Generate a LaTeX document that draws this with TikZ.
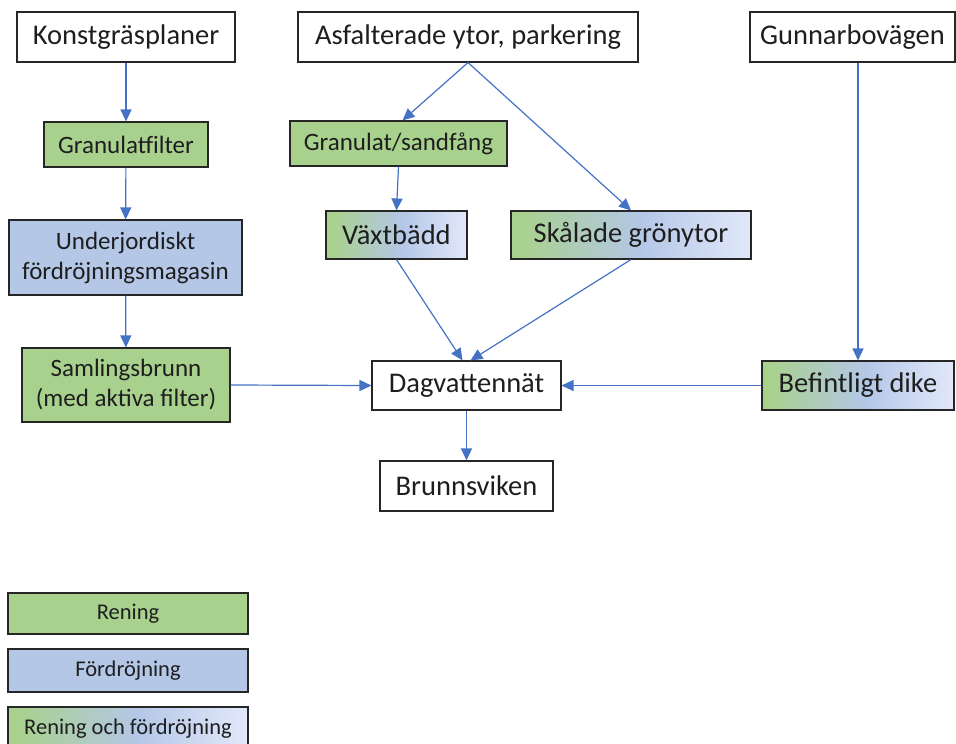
\documentclass[tikz,border=0pt]{standalone}
\usepackage{fontspec}
\setmainfont{Carlito}
\usetikzlibrary{arrows.meta,calc}
\definecolor{grn}{HTML}{A9D18E}
\definecolor{blu}{HTML}{B4C7E7}
\definecolor{lblu}{HTML}{E2E8FA}
\definecolor{arr}{HTML}{4472C4}
\definecolor{txt}{HTML}{1E1E1E}
\pgfdeclarehorizontalshading{gb}{100bp}{color(0bp)=(grn); color(27bp)=(grn); color(52bp)=(blu); color(75bp)=(lblu); color(100bp)=(lblu)}
\tikzset{
  box/.style={draw=black!85, line width=1.1pt, rectangle, inner sep=0pt, align=center, text=txt},
  whitebox/.style={box, fill=white, font=\fontsize{28.5}{33}\selectfont},
  greenbox/.style={box, fill=grn},
  bluebox/.style={box, fill=blu},
  mixbox/.style={box, shading=gb},
  flow/.style={draw=arr, line width=1.2pt, -{Triangle[length=12pt,width=11pt]}},
}
\begin{document}
\begin{tikzpicture}[x=1pt,y=-1pt]
\useasboundingbox (0,0) rectangle (956,744);
\clip (0,0) rectangle (956,744);
% top row
\node[whitebox, minimum width=218, minimum height=50] (konst) at (126,37) {Konstgräsplaner};
\node[whitebox, minimum width=340, minimum height=50] (asf) at (468,37) {Asfalterade ytor, parkering};
\node[whitebox, minimum width=205, minimum height=50] (gunn) at (852.5,37) {Gunnarbovägen};
% left column
\node[greenbox, minimum width=164, minimum height=45, font=\fontsize{25}{30}\selectfont] (granf) at (126,144.5) {Granulatfilter};
\node[bluebox, minimum width=233, minimum height=75, font=\fontsize{25}{30}\selectfont] (under) at (125.5,257.5) {Underjordiskt\\fördröjningsmagasin};
\node[greenbox, minimum width=208, minimum height=74, font=\fontsize{25}{30}\selectfont] (saml) at (126,385) {Samlingsbrunn\\(med aktiva filter)};
% middle
\node[greenbox, minimum width=217, minimum height=45, font=\fontsize{25}{30}\selectfont] (gsand) at (398.5,143.5) {Granulat/sandfång};
\node[mixbox, minimum width=141, minimum height=48, font=\fontsize{28.5}{33}\selectfont] (vaxt) at (396.5,235) {Växtbädd};
\node[mixbox, minimum width=240, minimum height=48, font=\fontsize{28.5}{33}\selectfont] (skal) at (631,235) {Skålade grönytor};
\node[whitebox, minimum width=189, minimum height=49] (dag) at (466.5,385.5) {Dagvattennät};
\node[whitebox, minimum width=173, minimum height=50] (brunn) at (466.5,486) {Brunnsviken};
\node[mixbox, minimum width=192, minimum height=49, font=\fontsize{28.5}{33}\selectfont] (dike) at (858,385.5) {Befintligt dike};
% legend
\node[greenbox, minimum width=240, minimum height=41, font=\fontsize{22.5}{27}\selectfont] (leg1) at (128,613.5) {Rening};
\node[bluebox, minimum width=240, minimum height=43, font=\fontsize{22.5}{27}\selectfont] (leg2) at (128,670.5) {Fördröjning};
\node[mixbox, minimum width=240, minimum height=44, font=\fontsize{22.5}{27}\selectfont] (leg3) at (128,729) {Rening och fördröjning};
% connectors
\draw[flow] (konst) -- (granf);
\draw[flow] (granf) -- (under);
\draw[flow] (under) -- (saml);
\draw[flow] (saml.east) -- (dag.west);
\draw[flow] (asf.south) -- ([xshift=4pt]gsand.north);
\draw[flow] (asf.south) -- (skal.north);
\draw[flow] (gsand.south) -- (vaxt.north);
\draw[flow] (vaxt.south) -- ([xshift=-4pt]dag.north);
\draw[flow] (skal.south) -- ([xshift=4pt]dag.north);
\draw[flow] (dike.north |- gunn.south) -- (dike.north);
\draw[flow] (dike.west) -- (dag.east);
\draw[flow] (dag) -- (brunn);
\end{tikzpicture}
\end{document}
